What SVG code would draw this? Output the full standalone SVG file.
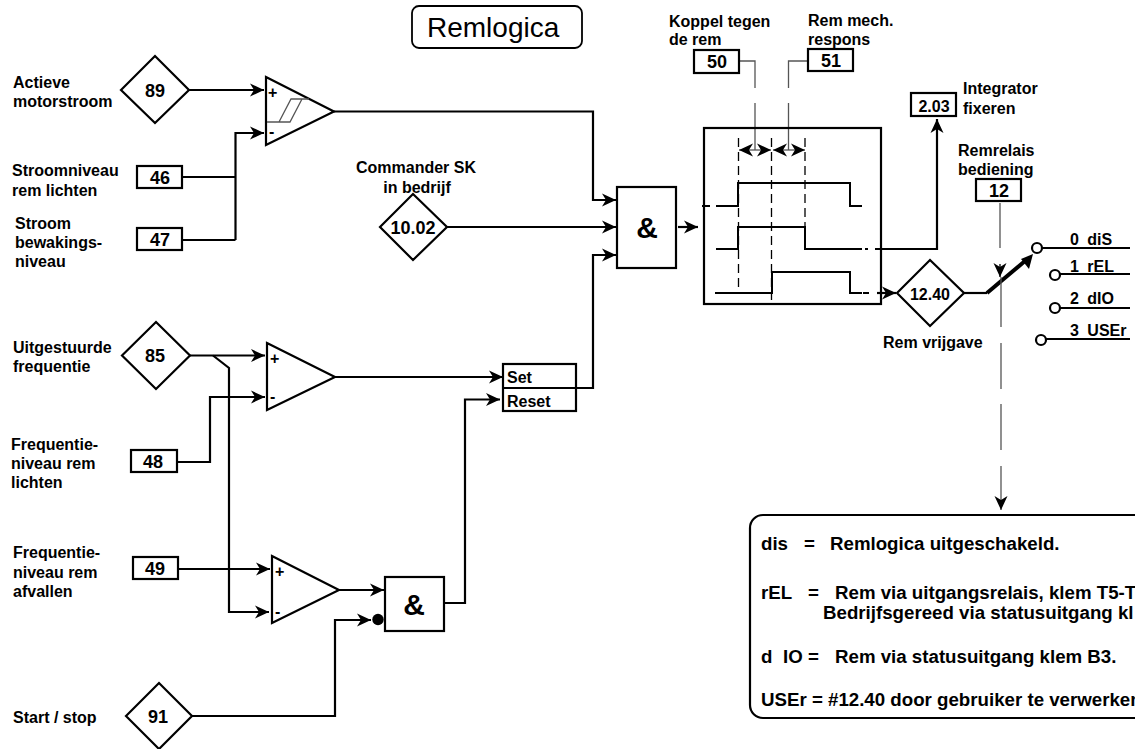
<svg xmlns="http://www.w3.org/2000/svg" width="1135" height="749" viewBox="0 0 1135 749">
<style>
text{font-family:"Liberation Sans",Arial,sans-serif;font-weight:bold;fill:#000}
.l{font-size:16px}
.n{font-size:18px;text-anchor:middle}
.s{font-size:16px;text-anchor:middle}
.t{font-size:18.700px}
.amp{font-size:30px;text-anchor:middle}
.b{fill:#fff;stroke:#000;stroke-width:2.200}
.g{fill:none;stroke:#000;stroke-width:2.200}
.a{fill:none;stroke:#000;stroke-width:2.200;marker-end:url(#ah)}
.th{fill:none;stroke:#555;stroke-width:1.300}
.d{fill:none;stroke:#000;stroke-width:1.300;stroke-dasharray:9 5}
.w{fill:none;stroke:#000;stroke-width:2}
.c{fill:#fff;stroke:#000;stroke-width:2.200}
.m{fill:none;stroke:#555;stroke-width:1.300;marker-start:url(#ah);marker-end:url(#ah)}
.sw{font-size:16px;word-spacing:4px}
</style>
<defs>
<marker id="ah" markerUnits="userSpaceOnUse" markerWidth="16" markerHeight="14" refX="14" refY="7" orient="auto-start-reverse"><path d="M0,0.500 L14,7 L0,13.500 L4,7 z" fill="#000"/></marker>
</defs>
<g id="connectors">
<path class="a" d="M189,90H264"/>
<path class="a" d="M235.500,240V133H264"/>
<path class="g" d="M182,177H235.500"/>
<path class="g" d="M182,240H235.500"/>
<path class="a" d="M334,111.500H593V200H616"/>
<path class="a" d="M446,227H616"/>
<path class="a" d="M576,388H593V255H616"/>
<path class="a" d="M190,355.500H265"/>
<path class="a" d="M213,355.500L229,368V612H269"/>
<path class="a" d="M177,462H210V397H265"/>
<path class="a" d="M335,377H503"/>
<path class="a" d="M178,569H270"/>
<path class="a" d="M339,590H384"/>
<path class="a" d="M444,603H465V399.500H500"/>
<path class="a" d="M192,716H335V620H371"/>
<path class="a" d="M678,227H698"/>
<path class="w" d="M702,206H710"/>
<path class="w" d="M716,206H738V183H850V206H862"/>
<path class="w" d="M716,249H738V227H805V249H862"/>
<path class="w" d="M865,249H868"/>
<path class="a" d="M875,249H937V119"/>
<path class="w" d="M715,293H772V272H850V293H862"/>
<path class="w" d="M863,293H869"/>
<path class="a" d="M877,293H896"/>
<path class="d" d="M738.500,138V293"/>
<path class="d" d="M771.500,138V300"/>
<path class="d" d="M805,138V249"/>
<path class="th" d="M739,61H755V88M755,103V150"/>
<path class="th" d="M808,61H788.500V88M788.500,103V150"/>
<path class="m" d="M739,150H771"/>
<path class="m" d="M773,150H805"/>
<path class="g" d="M964,293H987"/>
<path fill="none" stroke="#000" stroke-width="4" d="M987,293L1025,261"/>
<path fill="#000" d="M1033,254L1029,269L1021,259z"/>
<path class="th" d="M1000,203V248"/>
<path fill="none" stroke="#000" stroke-width="1.300" marker-end="url(#ah)" d="M1000,264V277"/>
<path class="th" d="M1001,277V327M1001,343V389M1001,404V450"/>
<path class="th" d="M1001,466V510" marker-end="url(#ah)"/>
<path class="g" d="M1042,248H1130"/>
<path class="g" d="M1060,274H1130"/>
<path class="g" d="M1060,308H1130"/>
<path class="g" d="M1046,339H1130"/>
</g>
<g id="title"><rect x="412" y="6" width="170" height="42" rx="7" fill="#fff" stroke="#000" stroke-width="1.800"/><text x="427" y="37" style="font-size:28px;font-weight:normal">Remlogica</text></g>
<g id="node-89"><path class="b" d="M121,90L155,56L189,90L155,123z"/><text class="n" x="155" y="97">89</text><text class="l" x="13" y="88">Actieve</text><text class="l" x="13" y="107">motorstroom</text></g>
<g id="node-46"><rect class="b" x="137" y="166" width="45" height="22"/><text class="n" x="160" y="184">46</text><text class="l" x="12" y="176">Stroomniveau</text><text class="l" x="12" y="196">rem lichten</text></g>
<g id="node-47"><rect class="b" x="137" y="228" width="45" height="22"/><text class="n" x="160" y="246">47</text><text class="l" x="15" y="229">Stroom</text><text class="l" x="15" y="248">bewakings-</text><text class="l" x="15" y="267">niveau</text></g>
<g id="comp-1"><path class="b" d="M266,77L334,111.500L266,145z"/><path class="th" d="M267,122H290L302,99M279,122L291,99H309"/><text class="l" x="268" y="98">+</text><text class="l" x="269" y="137">-</text></g>
<g id="node-1002"><path class="b" d="M380,227L413,194L447,227L413,260z"/><text class="n" x="413" y="234">10.02</text><text class="s" x="416" y="173">Commander SK</text><text class="s" x="417" y="193">in bedrijf</text></g>
<g id="and-1"><rect class="b" x="617" y="187" width="59" height="81"/><text class="amp" x="647" y="238">&amp;</text></g>
<g id="node-85"><path class="b" d="M122,355.500L156,322L190,355.500L156,389z"/><text class="n" x="155" y="362">85</text><text class="l" x="13" y="353">Uitgestuurde</text><text class="l" x="13" y="372">frequentie</text></g>
<g id="node-48"><rect class="b" x="131" y="450" width="46" height="22"/><text class="n" x="153" y="468">48</text><text class="l" x="11" y="450">Frequentie-</text><text class="l" x="11" y="469">niveau rem</text><text class="l" x="11" y="488">lichten</text></g>
<g id="comp-2"><path class="b" d="M267,343L335,377L267,410z"/><text class="l" x="270" y="364">+</text><text class="l" x="270" y="402">-</text></g>
<g id="setreset"><rect class="b" x="503" y="364" width="73" height="47"/><path class="g" d="M503,388H576"/><text class="l" x="507" y="383">Set</text><text class="l" x="507" y="407">Reset</text></g>
<g id="node-49"><rect class="b" x="133" y="557" width="45" height="22"/><text class="n" x="155" y="575">49</text><text class="l" x="13" y="558">Frequentie-</text><text class="l" x="13" y="578">niveau rem</text><text class="l" x="13" y="597">afvallen</text></g>
<g id="comp-3"><path class="b" d="M272,556L339,590L272,623z"/><text class="l" x="275" y="577">+</text><text class="l" x="275" y="617">-</text></g>
<g id="and-2"><rect class="b" x="385" y="577" width="59" height="54"/><text class="amp" x="414" y="615">&amp;</text><circle cx="378" cy="619.500" r="5.700" fill="#000"/></g>
<g id="node-91"><path class="b" d="M126,716L159,683L192,716L159,749z"/><text class="n" x="158" y="723">91</text><text class="l" x="13" y="723">Start / stop</text></g>
<g id="timing"><rect x="704" y="128" width="177" height="176" fill="none" stroke="#000" stroke-width="2.200"/></g>
<g id="node-50"><rect class="b" x="694" y="50" width="45" height="23"/><text class="n" x="717" y="68">50</text><text class="l" x="669" y="27">Koppel tegen</text><text class="l" x="669" y="45">de rem</text></g>
<g id="node-51"><rect class="b" x="808" y="49" width="45" height="22"/><text class="n" x="831" y="67">51</text><text class="l" x="808" y="26">Rem mech.</text><text class="l" x="808" y="45">respons</text></g>
<g id="node-203"><rect class="b" x="911" y="93" width="45" height="23"/><text class="s" x="934" y="112">2.03</text><text class="l" x="963" y="94">Integrator</text><text class="l" x="963" y="114">fixeren</text></g>
<g id="node-12"><rect class="b" x="976" y="179" width="45" height="22"/><text class="n" x="999" y="197">12</text><text class="l" x="958" y="156">Remrelais</text><text class="l" x="958" y="175">bediening</text></g>
<g id="node-1240"><path class="b" d="M897,293L930,260L964,293L930,326z"/><text class="s" x="930" y="300">12.40</text><text class="l" x="883" y="348">Rem vrijgave</text></g>
<g id="switch"><circle class="c" cx="1037" cy="248" r="5"/><circle class="c" cx="1055" cy="275" r="5"/><circle class="c" cx="1055" cy="308" r="5"/><circle class="c" cx="1041" cy="340" r="5"/>
<text class="sw" x="1070" y="245">0 diS</text><text class="sw" x="1070" y="272">1 rEL</text><text class="sw" x="1070" y="304">2 dIO</text><text class="sw" x="1070" y="336">3 USEr</text></g>
<g id="legend"><rect x="750" y="515" width="420" height="203" rx="13" fill="#fff" stroke="#000" stroke-width="2.200"/>
<text class="t" x="761" y="550">dis</text><text class="t" x="804" y="550">=</text><text class="t" x="830" y="550">Remlogica uitgeschakeld.</text>
<text class="t" x="761" y="599">rEL</text><text class="t" x="808" y="599">=</text><text class="t" x="835" y="599">Rem via uitgangsrelais, klem T5-T</text>
<text class="t" x="823" y="619">Bedrijfsgereed via statusuitgang kl</text>
<text class="t" x="761" y="663">d</text><text class="t" x="783" y="663">IO =</text><text class="t" x="835" y="663">Rem via statusuitgang klem B3.</text>
<text class="t" x="761" y="706">USEr = #12.40 door gebruiker te verwerken</text></g>
</svg>
